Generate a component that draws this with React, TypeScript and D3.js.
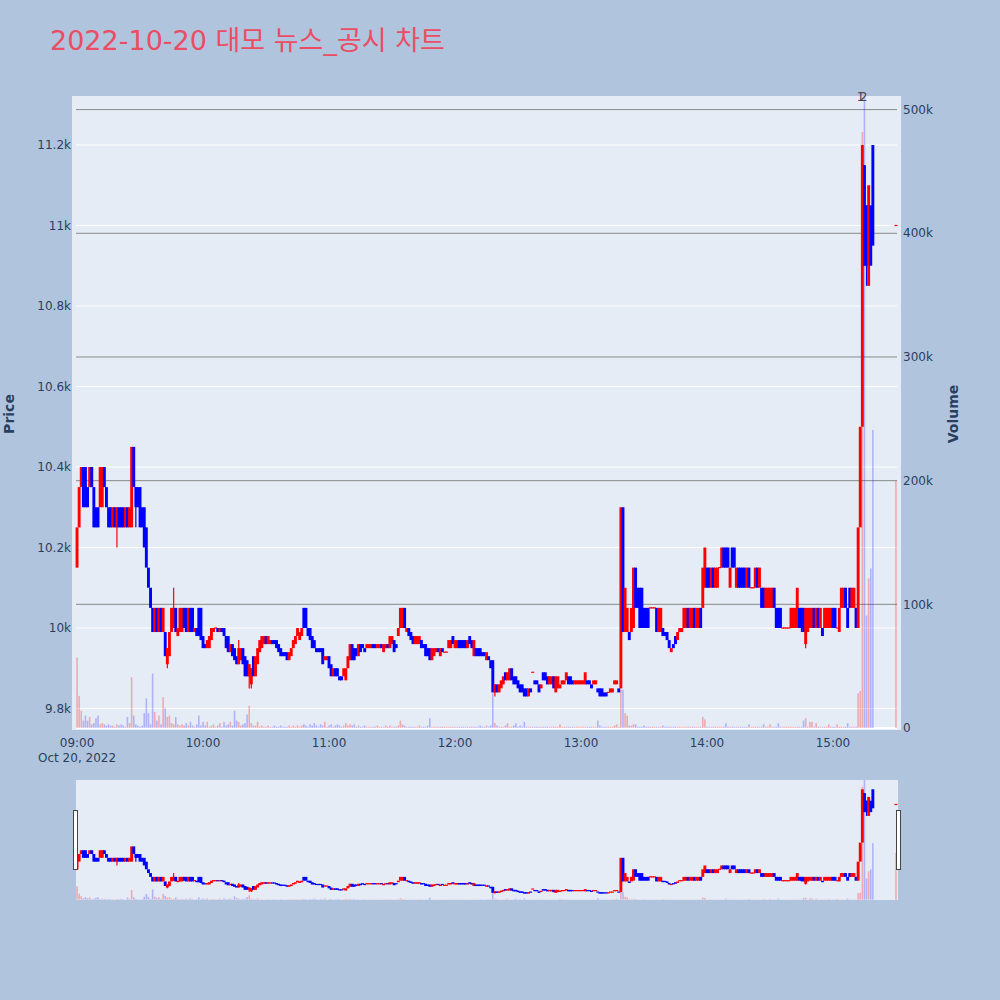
import React from "react";
import * as d3 from "d3";

const TITLE = "2022-10-20 대모 뉴스_공시 차트";
const SESSION_START = new Date(2022, 9, 20, 9, 0, 0);
const DATE_LABEL = "Oct 20, 2022";

// one candle per minute from 09:00 (index = minutes after 09:00)
const opens: number[] = [
  10150,10250,10350,10400,10400,10350,10350,10400,10350,10300,
  10300,10300,10300,10400,10350,10300,10300,10250,10300,10250,
  10300,10300,10300,10250,10300,10250,10250,10450,10350,10350,
  10350,10300,10300,10250,10150,10100,10050,9990,10050,9990,
  10050,9990,9990,9910,9930,9990,10000,10050,9980,9990,
  9990,10050,10050,9990,10050,10050,9990,10000,10050,10050,
  9980,9960,9950,9950,9970,9990,10000,10000,9990,10000,
  10000,9980,9980,9940,9960,9950,9930,9910,9920,9950,
  9930,9920,9880,9860,9930,9880,9910,9940,9950,9960,
  9980,9960,9960,9970,9970,9970,9960,9950,9940,9940,
  9940,9920,9930,9950,9960,9980,9970,9980,10050,10050,
  10000,10000,9980,9970,9950,9950,9950,9950,9920,9920,
  9930,9910,9880,9900,9900,9880,9880,9880,9870,9900,
  9920,9960,9950,9950,9930,9960,9960,9950,9950,9950,
  9950,9960,9960,9950,9950,9960,9940,9950,9960,9950,
  9960,9970,9960,9980,10000,10000,10050,9990,10000,9990,
  9980,9960,9960,9960,9970,9960,9960,9950,9950,9920,
  9930,9940,9950,9930,9950,9940,9940,9950,9950,9980,
  9950,9950,9970,9970,9970,9970,9950,9980,9970,9930,
  9950,9950,9950,9940,9940,9920,9930,9920,9920,9840,
  9860,9840,9850,9860,9890,9870,9870,9900,9880,9880,
  9870,9860,9860,9850,9850,9830,9850,9890,9870,9870,
  9860,9850,9890,9890,9880,9860,9860,9880,9840,9850,
  9850,9860,9860,9870,9880,9880,9870,9860,9860,9860,
  9860,9860,9860,9870,9870,9860,9860,9860,9850,9850,
  9850,9840,9840,9840,9840,9840,9860,9860,9850,9850,
  10300,9990,9990,9990,9990,10000,10150,10100,10100,10100,
  10050,10050,10050,10050,10050,10050,10050,9990,9990,10000,
  9990,9990,9970,9940,9960,9980,9970,9990,9990,10000,
  10000,10050,10000,10000,10050,10000,10000,10050,10050,10100,
  10150,10150,10100,10150,10100,10100,10150,10150,10200,10200,
  10200,10100,10200,10200,10100,10150,10150,10150,10150,10100,
  10150,10100,10100,10100,10150,10100,10100,10100,10050,10050,
  10050,10050,10100,10050,10050,10050,10000,10000,10000,10000,
  10000,10000,10000,10000,10050,10050,10050,9960,9990,10000,
  10000,10050,10000,10050,10000,10000,10000,10000,10000,10000,
  10050,10050,10000,9990,10050,10050,10100,10050,10100,10050,
  10050,10050,10000,10250,10500,11150,11050,10850,11050,11200,
];

const closes: number[] = [
  10250,10350,10400,10300,10300,10300,10400,10350,10250,10250,
  10250,10400,10400,10350,10300,10250,10250,10300,10250,10300,
  10250,10250,10250,10300,10250,10300,10450,10350,10300,10300,
  10250,10250,10200,10150,10100,10050,9990,10050,9990,10050,
  9990,10050,9930,9950,9990,10050,10050,9990,10000,10050,
  10050,10000,9990,10050,9990,9990,10000,9980,9980,9970,
  9950,9950,9970,9980,10000,10000,10000,9990,10000,9990,
  9980,9950,9940,9960,9930,9920,9910,9950,9950,9910,
  9880,9880,9910,9900,9880,9930,9950,9970,9980,9980,
  9960,9980,9970,9960,9960,9950,9940,9930,9930,9930,
  9920,9940,9950,9970,9980,10000,9990,10000,10000,10000,
  9980,9970,9950,9950,9940,9940,9940,9910,9930,9930,
  9900,9880,9900,9880,9880,9870,9870,9900,9900,9930,
  9960,9920,9920,9930,9960,9940,9950,9940,9960,9960,
  9960,9950,9950,9960,9960,9950,9960,9960,9950,9980,
  9980,9940,9950,10000,10050,10050,10000,10000,9980,9970,
  9960,9980,9980,9980,9950,9950,9930,9930,9920,9950,
  9950,9950,9940,9950,9940,9940,9940,9970,9970,9960,
  9970,9970,9950,9950,9950,9950,9970,9960,9950,9970,
  9930,9930,9930,9930,9930,9940,9920,9900,9840,9860,
  9840,9860,9870,9880,9870,9890,9900,9870,9860,9860,
  9850,9840,9840,9830,9830,9850,9840,9890,9860,9860,
  9840,9860,9870,9870,9860,9880,9880,9850,9880,9880,
  9860,9870,9870,9890,9860,9860,9860,9870,9870,9870,
  9870,9870,9890,9860,9860,9850,9870,9870,9840,9830,
  9830,9830,9830,9840,9850,9850,9870,9870,9840,10300,
  9990,10100,10050,9970,10050,10150,10050,10050,10000,10000,
  10000,10000,10000,10050,10050,10050,9990,10050,10050,9980,
  9980,9970,9950,9950,9950,9960,9990,10000,10000,10050,
  10050,10000,10050,10050,10000,10050,10050,10000,10150,10200,
  10100,10100,10150,10100,10150,10150,10150,10200,10150,10150,
  10150,10150,10150,10150,10150,10100,10100,10100,10100,10150,
  10100,10100,10100,10150,10100,10150,10050,10050,10100,10100,
  10100,10100,10050,10000,10000,10000,10000,10000,10000,10000,
  10050,10050,10050,10100,10000,10000,9990,10050,10050,10050,
  10050,10000,10050,10000,10050,9980,10050,10050,10050,10050,
  10000,10000,10000,10050,10100,10100,10050,10000,10050,10100,
  10100,10000,10250,10500,11200,10900,10900,11100,10900,10950,
];

// volume per minute, in thousands of shares
const volumes: number[] = [
  57,26,14,6,10,6,9,3,4,8,
  10,3,4,3,2,3,2,2,1,3,
  2,3,2,1,9,4,41,10,3,2,
  1,2,12,24,12,3,44,13,6,10,
  3,25,16,9,10,4,3,9,3,2,
  3,2,4,2,5,2,1,3,10,2,
  5,2,5,1,2,3,1,2,4,1,
  5,2,3,5,2,14,6,5,2,3,
  4,11,18,4,2,2,5,1,2,1,
  1,2,1,1,2,1,1,2,1,1,
  1,2,1,2,1,2,1,2,3,2,
  1,3,2,4,2,1,3,2,5,1,
  2,3,1,2,3,2,1,2,4,2,
  3,2,3,1,2,1,1,2,1,1,
  1,1,1,2,1,1,1,2,1,2,
  1,1,1,2,6,3,2,1,1,1,
  1,1,1,2,1,1,1,2,8,1,
  1,1,1,1,1,1,1,1,1,1,
  1,1,1,1,1,1,1,1,1,1,
  1,1,2,1,1,2,1,2,28,4,
  2,1,1,1,2,4,1,1,2,4,
  1,2,1,5,1,1,1,1,1,1,
  1,1,1,1,1,1,1,1,1,1,
  3,1,1,1,1,1,1,1,1,1,
  1,1,1,1,1,1,1,1,6,2,
  1,1,1,1,1,1,2,3,1,31,
  31,12,10,2,2,3,3,1,1,1,
  2,1,1,1,1,1,1,1,1,2,
  1,1,1,1,1,1,1,1,1,1,
  1,1,1,1,1,1,1,1,9,7,
  1,1,1,1,1,1,1,1,1,4,
  1,1,1,1,1,1,1,1,1,1,
  3,1,1,1,1,1,1,3,1,1,
  3,1,1,1,4,1,1,1,1,1,
  1,1,1,1,1,1,6,8,1,5,
  5,1,4,1,1,1,1,1,3,1,
  1,1,3,1,1,1,1,4,1,1,
  1,1,28,30,482,520,91,121,129,241,
];

const highWicks: [number, number][] = [[46, 10100], [77, 9970], [299, 10200]];
const lowWicks: [number, number][] = [
  [19, 10200], [28, 10250], [43, 9900], [82, 9850], [83, 9850], [199, 9830],
  [345, 9990], [347, 9950], [376, 10850],
];

const closingAuction = { minute: 390, open: 11000, close: 11000, volume: 200 };
const newsMarkers = [
  { label: "1", minute: 373.2 },
  { label: "2", minute: 374.6 },
];

const priceTicks = [9800, 10000, 10200, 10400, 10600, 10800, 11000, 11200];
const volumeTicks = [0, 100, 200, 300, 400, 500];

const FONT = "Verdana, 'DejaVu Sans', 'Noto Sans CJK KR', sans-serif";
const UP = "#ff0000";
const DOWN = "#0000ff";

type Candle = { m: number; o: number; c: number; h: number; l: number; v: number };

export default function App() {
  const t0 = SESSION_START.getTime();
  const toDate = (m: number) => new Date(t0 + m * 60000);

  const candles: Candle[] = opens.map((o, i) => {
    const c = closes[i];
    let h = Math.max(o, c);
    let l = Math.min(o, c);
    highWicks.forEach(([m, p]) => { if (m === i) h = Math.max(h, p); });
    lowWicks.forEach(([m, p]) => { if (m === i) l = Math.min(l, p); });
    return { m: i, o, c, h, l, v: volumes[i] };
  });
  candles.push({
    m: closingAuction.minute,
    o: closingAuction.open,
    c: closingAuction.close,
    h: closingAuction.close,
    l: closingAuction.close,
    v: closingAuction.volume,
  });

  const x = d3.scaleTime().domain([toDate(-0.5), toDate(390.5)]).range([76, 897]);
  const yP = d3.scaleLinear().domain([9746.6, 11321.7]).range([730, 96]);
  const yV = d3.scaleLinear().domain([-1.6, 511]).range([730, 96]);
  const yPs = d3.scaleLinear().domain(yP.domain()).range([900, 780]);
  const yVs = d3.scaleLinear().domain(yV.domain()).range([900, 780]);

  const timeTicks = x.ticks(d3.timeHour.every(1) as any).filter((d) => d.getHours() <= 15 && d.getHours() >= 9);
  const fmtTime = d3.timeFormat("%H:%M");
  const fmtPrice = d3.format("~s");
  const fmtVol = (v: number) => (v === 0 ? "0" : `${v}k`);

  const bodyW = 2.9;
  const barW = 1.6;

  const renderCandles = (ys: d3.ScaleLinear<number, number>, key: string) =>
    candles.map((d) => {
      const cx = x(toDate(d.m));
      const up = d.c >= d.o;
      const col = up ? UP : DOWN;
      const y1 = ys(Math.max(d.o, d.c));
      const y2 = ys(Math.min(d.o, d.c));
      const hgt = Math.max(1.2, y2 - y1);
      return (
        <g key={`${key}${d.m}`}>
          {(d.h > Math.max(d.o, d.c) || d.l < Math.min(d.o, d.c)) && (
            <line x1={cx} x2={cx} y1={ys(d.h)} y2={ys(d.l)} stroke={col} strokeWidth={1.2} />
          )}
          <rect x={cx - bodyW / 2} y={y1 - (y2 - y1 < 1.2 ? 0.6 : 0)} width={bodyW} height={hgt} fill={col} />
        </g>
      );
    });

  const renderVolumes = (ys: d3.ScaleLinear<number, number>, key: string) =>
    candles.map((d) => {
      const cx = x(toDate(d.m));
      const up = d.c >= d.o;
      const top = ys(d.v);
      const base = ys(0);
      return (
        <rect
          key={`${key}${d.m}`}
          x={cx - barW / 2}
          y={top}
          width={barW}
          height={Math.max(0, base - top)}
          fill={up ? "rgba(255,0,0,0.28)" : "rgba(0,0,255,0.24)"}
        />
      );
    });

  return (
    <svg
      width={1000}
      height={1000}
      style={{ position: "absolute", left: 0, top: 0, fontFamily: FONT }}
    >
      <defs>
        <clipPath id="mainClip">
          <rect x={72} y={96} width={829} height={634} />
        </clipPath>
        <clipPath id="sliderClip">
          <rect x={76} y={780} width={822} height={120} />
        </clipPath>
      </defs>
      <rect x={0} y={0} width={1000} height={1000} fill="#b0c4de" />
      <text x={50} y={50} fontSize={27} fill="#ea4d64" fontFamily={FONT}>
        {TITLE}
      </text>

      {/* main plot */}
      <rect x={72} y={96} width={829} height={634} fill="#e5ecf6" />
      {priceTicks.map((p) => (
        <line key={`pg${p}`} x1={76} x2={897} y1={yP(p)} y2={yP(p)} stroke="#ffffff" strokeWidth={1} />
      ))}
      {volumeTicks.filter((v) => v > 0).map((v) => (
        <line key={`vg${v}`} x1={76} x2={897} y1={yV(v)} y2={yV(v)} stroke="#8a8a8a" strokeWidth={1} />
      ))}
      <line x1={76} x2={897} y1={yV(0)} y2={yV(0)} stroke="#ffffff" strokeWidth={2} />

      <g clipPath="url(#mainClip)">
        {renderCandles(yP, "c")}
        {renderVolumes(yV, "v")}
      </g>

      {newsMarkers.map((n) => (
        <text
          key={`n${n.label}`}
          x={x(toDate(n.minute))}
          y={101}
          fontSize={12}
          textAnchor="middle"
          fill="#444"
        >
          {n.label}
        </text>
      ))}

      {/* axes labels */}
      {priceTicks.map((p) => (
        <text key={`pt${p}`} x={71} y={yP(p)} dy="0.35em" fontSize={12} textAnchor="end" fill="#2a3f5f">
          {fmtPrice(p)}
        </text>
      ))}
      {volumeTicks.map((v) => (
        <text key={`vt${v}`} x={903} y={yV(v)} dy="0.35em" fontSize={12} textAnchor="start" fill="#2a3f5f">
          {fmtVol(v)}
        </text>
      ))}
      {timeTicks.map((t, i) => (
        <text key={`tt${i}`} x={x(t)} y={747} fontSize={12} textAnchor="middle" fill="#2a3f5f">
          {fmtTime(t)}
        </text>
      ))}
      <text x={x(timeTicks[0])} y={762} fontSize={12} textAnchor="middle" fill="#2a3f5f">
        {DATE_LABEL}
      </text>
      <text
        transform="translate(14,414) rotate(-90)"
        fontSize={14}
        fontWeight="bold"
        textAnchor="middle"
        fill="#2a3f5f"
      >
        Price
      </text>
      <text
        transform="translate(958,414) rotate(-90)"
        fontSize={14}
        fontWeight="bold"
        textAnchor="middle"
        fill="#2a3f5f"
      >
        Volume
      </text>

      {/* range slider */}
      <rect x={76} y={780} width={822} height={120} fill="#e5ecf6" />
      <g clipPath="url(#sliderClip)">
        {renderCandles(yPs, "sc")}
        {renderVolumes(yVs, "sv")}
      </g>
      <rect x={73.5} y={810.5} width={4} height={59} fill="#ffffff" stroke="#444" strokeWidth={1} />
      <rect x={896.5} y={810.5} width={4} height={59} fill="#ffffff" stroke="#444" strokeWidth={1} />
    </svg>
  );
}
